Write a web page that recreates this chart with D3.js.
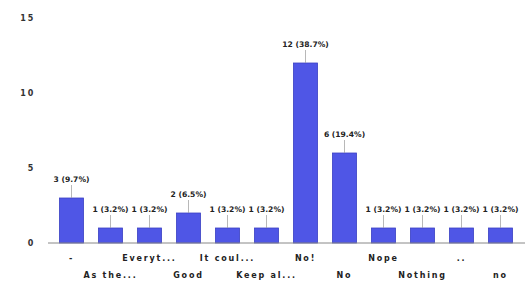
<!DOCTYPE html>
<html>
<head>
<meta charset="utf-8">
<script src="https://cdn.jsdelivr.net/npm/d3@7"></script>
<style>
  body { margin: 0; background: #fff; }
  text { font-family: "DejaVu Sans", sans-serif; letter-spacing: 1.8px; font-weight: bold; }
  text.value { letter-spacing: 0px; }
</style>
</head>
<body>
<script>
// Chart data
const categories = ["-", "As the...", "Everyt...", "Good", "It coul...", "Keep al...",
                    "No!", "No", "Nope", "Nothing", "..", "no"];
const counts = [3, 1, 1, 2, 1, 1, 12, 6, 1, 1, 1, 1];
const percents = ["9.7%", "3.2%", "3.2%", "6.5%", "3.2%", "3.2%",
                  "38.7%", "19.4%", "3.2%", "3.2%", "3.2%", "3.2%"];
const yTicks = [0, 5, 10, 15];

const width = 531;
const height = 283;

const svg = d3.select("body").append("svg")
    .attr("width", width)
    .attr("height", height);

const x = d3.scaleBand()
    .domain(categories)
    .range([52, 520])
    .paddingInner(0.38)
    .paddingOuter(0.19);

const y = d3.scaleLinear()
    .domain([0, 15])
    .range([243, 18]);

// y tick labels (no axis line)
svg.append("g")
    .selectAll("text")
    .data(yTicks)
    .enter().append("text")
        .attr("x", 35)
        .attr("y", d => y(d) + 3)
        .attr("text-anchor", "end")
        .attr("font-size", 8)
        .attr("fill", "#333")
        .text(d => d);

// bars
svg.append("g")
    .selectAll("rect")
    .data(counts)
    .enter().append("rect")
        .attr("x", (d, i) => x(categories[i]))
        .attr("y", d => y(d))
        .attr("width", x.bandwidth())
        .attr("height", d => y(0) - y(d))
        .attr("fill", "#4f56e6")
        .attr("stroke", "#3c42c4")
        .attr("stroke-width", 0.8);

// baseline
svg.append("line")
    .attr("x1", 48).attr("x2", 525)
    .attr("y1", y(0)).attr("y2", y(0))
    .attr("stroke", "#888")
    .attr("stroke-width", 1);

// leader lines and value labels
const labels = svg.append("g");
counts.forEach((d, i) => {
    const cx = x(categories[i]) + x.bandwidth() / 2;
    labels.append("line")
        .attr("x1", cx).attr("x2", cx)
        .attr("y1", y(d) - 13).attr("y2", y(d))
        .attr("stroke", "#999")
        .attr("stroke-width", 0.7);
    labels.append("text")
        .attr("class", "value")
        .attr("x", cx)
        .attr("y", y(d) - 16)
        .attr("text-anchor", "middle")
        .attr("font-size", 7.6)
        .attr("fill", "#222")
        .text(d + " (" + percents[i] + ")");
});

// category labels, staggered on two rows
svg.append("g")
    .selectAll("text")
    .data(categories)
    .enter().append("text")
        .attr("x", d => x(d) + x.bandwidth() / 2)
        .attr("y", (d, i) => i % 2 === 0 ? 261 : 278)
        .attr("text-anchor", "middle")
        .attr("font-size", 8)
        .attr("fill", "#222")
        .text(d => d);
</script>
</body>
</html>
